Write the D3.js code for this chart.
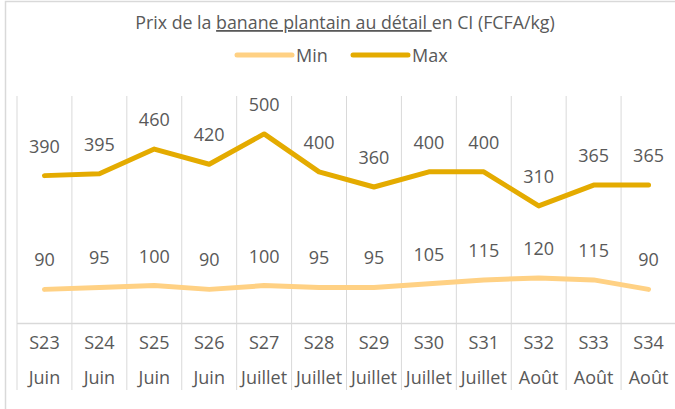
<!DOCTYPE html>
<html>
<head>
<meta charset="utf-8">
<script src="https://cdn.jsdelivr.net/npm/d3@7"></script>
<style>
  html, body { margin: 0; padding: 0; background: #fff; }
  svg { display: block; font-family: "Open Sans", sans-serif; }
</style>
</head>
<body>
<svg id="chart" width="675" height="409"></svg>
<script>
const weeks = ["S23","S24","S25","S26","S27","S28","S29","S30","S31","S32","S33","S34"];
const months = ["Juin","Juin","Juin","Juin","Juillet","Juillet","Juillet","Juillet","Juillet","Août","Août","Août"];
const minValues = [90, 95, 100, 90, 100, 95, 95, 105, 115, 120, 115, 90];
const maxValues = [390, 395, 460, 420, 500, 400, 360, 400, 400, 310, 365, 365];
const seriesNames = ["Min", "Max"];
const seriesColors = ["#FFD184", "#E4AB00"];

const svg = d3.select("#chart");
const textColor = "#595959";
const gridColor = "#D9D9D9";

// chart border (partially cropped)
svg.append("path")
  .attr("d", "M5.5,409 L5.5,1.5 L675,1.5")
  .attr("fill", "none").attr("stroke", gridColor).attr("stroke-width", 1.5);

const x = d3.scaleBand().domain(weeks).range([17, 676]).padding(0);
const y = d3.scaleLinear().domain([0, 600]).range([323.5, 96]);

// vertical gridlines (category boundaries) - extend through the label area
const bounds = weeks.map(w => x(w));
svg.append("g").selectAll("line").data(bounds).join("line")
  .attr("x1", d => d).attr("x2", d => d)
  .attr("y1", y(600)).attr("y2", 390)
  .attr("stroke", gridColor).attr("stroke-width", 1);

// axis line
svg.append("line")
  .attr("x1", 17).attr("x2", 676).attr("y1", y(0)).attr("y2", y(0))
  .attr("stroke", gridColor).attr("stroke-width", 1.5);

// category labels
const labG = svg.append("g").attr("fill", textColor).attr("font-size", 18).attr("text-anchor", "middle");
labG.selectAll("text.wk").data(weeks).join("text").attr("class", "wk")
  .attr("x", d => x(d) + x.bandwidth() / 2).attr("y", 349).text(d => d);
labG.selectAll("text.mo").data(months).join("text").attr("class", "mo")
  .attr("x", (d, i) => x(weeks[i]) + x.bandwidth() / 2).attr("y", 384).text(d => d);

// lines
const line = d3.line()
  .x((d, i) => x(weeks[i]) + x.bandwidth() / 2)
  .y(d => y(d));
[minValues, maxValues].forEach((vals, k) => {
  svg.append("path").datum(vals)
    .attr("d", line)
    .attr("fill", "none")
    .attr("stroke", seriesColors[k])
    .attr("stroke-width", 5)
    .attr("stroke-linejoin", "round")
    .attr("stroke-linecap", "round");
  svg.append("g").attr("fill", textColor).attr("font-size", 18).attr("text-anchor", "middle")
    .selectAll("text").data(vals).join("text")
    .attr("x", (d, i) => x(weeks[i]) + x.bandwidth() / 2)
    .attr("y", d => y(d) - 23)
    .text(d => d);
});

// title
const title = svg.append("text")
  .attr("x", 345).attr("y", 29)
  .attr("text-anchor", "middle")
  .attr("fill", textColor)
  .attr("font-size", 17.8);
title.append("tspan").text("Prix de la ");
title.append("tspan").attr("text-decoration", "underline").text("banane plantain au détail\u00A0");
title.append("tspan").text("en CI (FCFA/kg)");

// legend
const legendX = [237, 353];
seriesNames.forEach((name, k) => {
  svg.append("line")
    .attr("x1", legendX[k]).attr("x2", legendX[k] + 55)
    .attr("y1", 55).attr("y2", 55)
    .attr("stroke", seriesColors[k]).attr("stroke-width", 5)
    .attr("stroke-linecap", "round");
  svg.append("text")
    .attr("x", legendX[k] + 59).attr("y", 61.5)
    .attr("fill", textColor).attr("font-size", 18)
    .text(name);
});
</script>
</body>
</html>
